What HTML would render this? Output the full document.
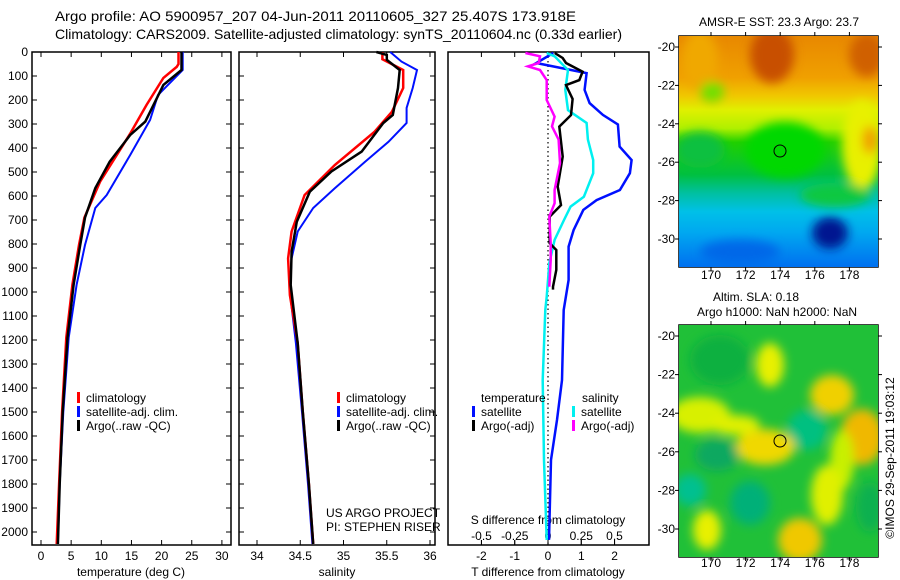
<!DOCTYPE html>
<html><head><meta charset="utf-8"><style>
html,body{margin:0;padding:0;background:#fff}
svg{display:block;font-family:"Liberation Sans",sans-serif}
</style></head><body>
<svg id="fig" width="900" height="580" xmlns="http://www.w3.org/2000/svg">
<defs>
<filter id="blur1" x="-30%" y="-30%" width="160%" height="160%"><feGaussianBlur stdDeviation="5"/></filter>
<clipPath id="clipM1"><rect x="679" y="36" width="199" height="231"/></clipPath>
<clipPath id="clipM2"><rect x="679" y="325" width="199" height="232"/></clipPath>
<linearGradient id="g1" x1="0" y1="0" x2="0" y2="1">
<stop offset="0" stop-color="#e88800"/><stop offset="0.18" stop-color="#f0a000"/>
<stop offset="0.26" stop-color="#f0c800"/><stop offset="0.32" stop-color="#e0f000"/>
<stop offset="0.4" stop-color="#b0f000"/><stop offset="0.46" stop-color="#20d000"/>
<stop offset="0.6" stop-color="#00c040"/><stop offset="0.68" stop-color="#00c0a0"/>
<stop offset="0.76" stop-color="#00c0e8"/><stop offset="0.85" stop-color="#00a8f0"/>
<stop offset="1" stop-color="#0070f0"/></linearGradient>
</defs>
<g font-size="14">
<text x="55" y="21" textLength="521" lengthAdjust="spacingAndGlyphs">Argo profile: AO 5900957_207 04-Jun-2011 20110605_327 25.407S 173.918E</text>
<text x="55" y="39" textLength="567" lengthAdjust="spacingAndGlyphs">Climatology: CARS2009. Satellite-adjusted climatology: synTS_20110604.nc (0.33d earlier)</text>
</g>
<g id="axes"></g>
<g id="maps">
 <g clip-path="url(#clipM1)">
  <rect x="679" y="36" width="199" height="231" fill="url(#g1)"/>
  <g filter="url(#blur1)">
   <ellipse cx="772" cy="55" rx="22" ry="28" fill="#c85000"/>
   <ellipse cx="867" cy="55" rx="18" ry="22" fill="#d06000"/>
   <ellipse cx="700" cy="60" rx="18" ry="30" fill="#f0a800"/>
   <ellipse cx="712" cy="92" rx="12" ry="10" fill="#70e000"/>
   <ellipse cx="862" cy="145" rx="20" ry="45" fill="#e8f000"/>
   <ellipse cx="870" cy="140" rx="8" ry="14" fill="#f0a000"/>
   <ellipse cx="785" cy="150" rx="40" ry="28" fill="#00d800"/>
   <ellipse cx="700" cy="150" rx="25" ry="18" fill="#10c040"/>
   <ellipse cx="835" cy="195" rx="35" ry="12" fill="#10c840"/>
   <ellipse cx="830" cy="233" rx="18" ry="16" fill="#001890"/>
   <ellipse cx="740" cy="252" rx="40" ry="12" fill="#0068e8"/>
  </g>
  <circle cx="780" cy="151" r="6" fill="none" stroke="#000"/>
 </g>
 <g clip-path="url(#clipM2)">
  <rect x="679" y="325" width="199" height="232" fill="#20c038"/>
  <g filter="url(#blur1)">
   <ellipse cx="700" cy="415" rx="30" ry="18" fill="#d8f000"/>
   <ellipse cx="770" cy="365" rx="14" ry="22" fill="#e8f000"/>
   <ellipse cx="832" cy="395" rx="22" ry="20" fill="#f0d000"/>
   <ellipse cx="807" cy="430" rx="20" ry="20" fill="#00c080"/>
   <ellipse cx="862" cy="437" rx="22" ry="28" fill="#f0b800"/>
   <ellipse cx="842" cy="460" rx="12" ry="30" fill="#c8f000"/>
   <ellipse cx="765" cy="447" rx="30" ry="18" fill="#f0d800"/>
   <ellipse cx="735" cy="425" rx="25" ry="10" fill="#e0f000"/>
   <ellipse cx="717" cy="455" rx="22" ry="16" fill="#10a860"/>
   <ellipse cx="690" cy="490" rx="16" ry="16" fill="#00c090"/>
   <ellipse cx="750" cy="503" rx="20" ry="22" fill="#00b078"/>
   <ellipse cx="827" cy="495" rx="16" ry="30" fill="#e0f000"/>
   <ellipse cx="800" cy="540" rx="22" ry="22" fill="#f0c800"/>
   <ellipse cx="707" cy="530" rx="14" ry="20" fill="#e8f000"/>
   <ellipse cx="870" cy="507" rx="14" ry="25" fill="#10b050"/>
   <ellipse cx="720" cy="360" rx="30" ry="25" fill="#10b040"/>
  </g>
  <circle cx="780" cy="441" r="6" fill="none" stroke="#000"/>
 </g>
</g>
</svg>
<script>
// ---- data ----
var argoTDepth=[0,75,137,290,346,457,567,690,804,970,1190,1500,1800,2050];
var argoT=[23.3,23.3,20.3,17.3,14.8,11.4,9.0,7.3,6.5,5.4,4.4,3.6,3.1,2.8];
var climTDepth=[0,50,62,108,221,340,540,690,804,970,1190,1500,1800,2050];
var climT=[22.8,22.8,22.5,20.3,17.5,14.8,9.8,7.2,6.3,5.2,4.2,3.5,3.0,2.6];
var satTDepth=[0,75,179,283,429,596,650,804,970,1190,1500,1800,2050];
var satT=[23.5,23.5,19.4,18.1,14.8,10.9,9.0,7.3,5.9,4.6,3.7,3.1,2.8];
var argoSDepth=[0,12,33,75,150,262,296,415,498,582,707,832,971,1213,1500,1800,2050];
var argoS=[35.38,35.50,35.50,35.65,35.63,35.57,35.46,35.21,34.86,34.61,34.46,34.40,34.39,34.47,34.53,34.60,34.65];
var climSDepth=[0,30,75,150,249,332,471,596,748,860,1013,1213,1500,1800,2050];
var climS=[35.45,35.45,35.69,35.69,35.56,35.36,34.90,34.55,34.40,34.36,34.38,34.47,34.53,34.60,34.65];
var satSDepth=[0,40,75,150,233,296,374,457,568,650,748,860,1000,1213,1500,1800,2050];
var satS=[35.54,35.67,35.85,35.80,35.73,35.73,35.52,35.25,34.90,34.65,34.47,34.40,34.38,34.45,34.52,34.59,34.64];
var dTsatDepth=[4,46,88,158,213,262,302,394,450,505,575,617,658,742,811,950,1075,1367,1533,1700,2033];
var dTsat=[0.16,-0.35,1.16,1.1,1.25,1.65,2.1,2.15,2.51,2.46,2.16,1.46,1.06,0.77,0.62,0.62,0.47,0.42,0.27,0.09,0.03];
var dTargoDepth=[4,25,46,82,117,138,196,263,311,436,561,638,686,797,825,908,978,990];
var dTargo=[0.2,0.44,0.54,1.04,0.94,0.54,0.74,0.69,0.34,0.44,0.29,0.39,0.05,0.05,0.25,0.25,0.15,0.15];
var dSsatDepth=[4,18,75,158,242,296,365,450,505,603,644,700,783,880,1020,1075,1367,1700,2033];
var dSsat=[-0.01,0.05,0.15,0.13,0.15,0.29,0.30,0.34,0.34,0.27,0.17,0.12,0.05,0.01,-0.01,-0.02,-0.04,-0.03,-0.01];
var dSargoDepth=[4,18,46,60,75,117,200,269,310,365,463,575,630,686,797,866,978];
var dSargo=[-0.17,-0.06,-0.07,-0.15,-0.06,-0.01,-0.01,0.05,0.03,0.08,0.09,0.05,0.05,0.01,0.02,0.02,0.01];
var depthTicks=[0,100,200,300,400,500,600,700,800,900,1000,1100,1200,1300,1400,1500,1600,1700,1800,1900,2000];
var tempTicks=[0,5,10,15,20,25,30];
var salTicks=[34,34.5,35,35.5,36];
var salTickLabels=["34","34.5","35","35.5","36"];
var dTTicks=[-2,-1,0,1,2];
var dSTicks=[-0.5,-0.25,0,0.25,0.5];
var dSTickLabels=["-0.5","-0.25","0","0.25","0.5"];
var lonTicks=[170,172,174,176,178];
var latTicks=[-20,-22,-24,-26,-28,-30];
// ---- scales ----
var NS="http://www.w3.org/2000/svg";
var svg=document.getElementById('fig');
var axes=document.getElementById('axes');
var TOP=52,BOT=545;
function yD(d){return 52+d*0.24;}
function xT(t){return 41+t*6.03;}
function xS(s){return 257+(s-34)*86.5;}
function xdT(v){return 548+v*33.3;}
function xdS(v){return 548+v*133;}
function xLon(l){return 711+(l-170)*17.3;}
function yLat1(l){return 47+(-20-l)*19.2;}
function yLat2(l){return 336+(-20-l)*19.3;}
function mk(tag,attrs,parent){var e=document.createElementNS(NS,tag);for(var k in attrs)e.setAttribute(k,attrs[k]);(parent||axes).appendChild(e);return e;}
function txt(x,y,s,anchor,size){var e=mk('text',{x:x,y:y,'font-size':size||12,'text-anchor':anchor||'start'});e.textContent=s;return e;}
function line(x1,y1,x2,y2,w,c){return mk('line',{x1:x1,y1:y1,x2:x2,y2:y2,stroke:c||'#000','stroke-width':w||1});}
var panels=[[32,231],[239,435],[448,649]];
panels.forEach(function(p,i){
  var r=mk('rect',{x:p[0],y:TOP,width:p[1]-p[0],height:BOT-TOP,fill:'none',stroke:'#000','stroke-width':1.5});
  
  
  if(i<2){depthTicks.forEach(function(d){line(p[0],yD(d),p[0]+5,yD(d));line(p[1]-5,yD(d),p[1],yD(d));});}
});
depthTicks.forEach(function(d){var t=txt(28,yD(d)+4,String(d),'end');
  
  });
tempTicks.forEach(function(v){line(xT(v),BOT,xT(v),BOT-5);line(xT(v),TOP,xT(v),TOP+5);
  var t=txt(xT(v),560,String(v),'middle');
  
  });
salTicks.forEach(function(v,i){line(xS(v),BOT,xS(v),BOT-5);line(xS(v),TOP,xS(v),TOP+5);
  var t=txt(xS(v),560,salTickLabels[i],'middle');
  
  });
dTTicks.forEach(function(v){line(xdT(v),BOT,xdT(v),BOT-5);line(xdT(v),TOP,xdT(v),TOP+5);
  var t=txt(xdT(v),560,String(v),'middle');
  
  });
dSTicks.forEach(function(v,i){line(xdS(v),BOT,xdS(v),BOT-5);
  var t=txt(xdS(v),540,dSTickLabels[i],'middle');
  
  });
var a;
a=txt(131,576,'temperature (deg C)','middle');
a=txt(337,576,'salinity','middle');
a=txt(548,576,'T difference from climatology','middle');
a=txt(548,524,'S difference from climatology','middle');
a=txt(326,517,'US ARGO PROJECT');
a=txt(326,531,'PI: STEPHEN RISER');
var z=mk('line',{x1:548,y1:TOP,x2:548,y2:BOT,stroke:'#000','stroke-width':1.2,'stroke-dasharray':'1.5,3'});


function series(vals,deps,xf,color,name,w){
  var pts=vals.map(function(v,i){return xf(v).toFixed(1)+','+yD(deps[i]).toFixed(1);}).join(' ');
  var p=mk('polyline',{points:pts,fill:'none',stroke:color,'stroke-width':w||2.5,'stroke-linejoin':'miter'});
  
  
}
series(satT,satTDepth,xT,'#0010ff','temperature-satellite-line',2);
series(climT,climTDepth,xT,'#ff0000','temperature-climatology-line',2.5);
series(argoT,argoTDepth,xT,'#000','temperature-argo-line',2.5);
series(satS,satSDepth,xS,'#0010ff','salinity-satellite-line',2);
series(climS,climSDepth,xS,'#ff0000','salinity-climatology-line',2.5);
series(argoS,argoSDepth,xS,'#000','salinity-argo-line',2.5);
series(dTsat,dTsatDepth,xdT,'#0010ff','t-diff-satellite-line',2.5);
series(dSsat,dSsatDepth,xdS,'#00f0f0','s-diff-satellite-line',2.5);
series(dTargo,dTargoDepth,xdT,'#000','t-diff-argo-line',2.5);
series(dSargo,dSargoDepth,xdS,'#ff00ff','s-diff-argo-line',2.5);
function legEntry(x,y,color,label,name){
  var g=mk('g',{});
  
  
  mk('rect',{x:x,y:y-10,width:3,height:11,fill:color},g);
  var t=mk('text',{x:x+9,y:y,'font-size':12},g);t.textContent=label;
}
legEntry(77,402,'#ff0000','climatology','legend-entry-climatology');
legEntry(77,416,'#0010ff','satellite-adj. clim.','legend-entry-satellite');
legEntry(77,430,'#000','Argo(..raw -QC)','legend-entry-argo');
legEntry(337,402,'#ff0000','climatology','legend-entry-climatology-s');
legEntry(337,416,'#0010ff','satellite-adj. clim.','legend-entry-satellite-s');
legEntry(337,430,'#000','Argo(..raw -QC)','legend-entry-argo-s');
a=txt(481,402,'temperature');
a=txt(582,402,'salinity');
legEntry(472,416,'#0010ff','satellite','legend-entry-t-satellite');
legEntry(472,430,'#000','Argo(-adj)','legend-entry-t-argo');
legEntry(572,416,'#00f0f0','satellite','legend-entry-s-satellite');
legEntry(572,430,'#ff00ff','Argo(-adj)','legend-entry-s-argo');
[[36,267,yLat1,279],[325,557,yLat2,567]].forEach(function(m,i){
  var r=mk('rect',{x:679,y:m[0],width:199,height:m[1]-m[0],fill:'none',stroke:'#000','stroke-width':1.5});
  
  
  lonTicks.forEach(function(l){line(xLon(l),m[0],xLon(l),m[0]-4);line(xLon(l),m[1],xLon(l),m[1]+4);
    var t=txt(xLon(l),m[3],String(l),'middle');
    
    });
  latTicks.forEach(function(l){var y=m[2](l);line(675,y,679,y);line(878,y,882,y);
    var t=txt(675,y+4,String(l),'end');
    
    });
});
a=txt(779,26,'AMSR-E SST: 23.3  Argo: 23.7','middle');
a=txt(756,301,'Altim. SLA: 0.18','middle');
a=txt(777,316,'Argo h1000: NaN h2000: NaN','middle');
a=txt(0,0,'©IMOS 29-Sep-2011 19:03:12','middle');
a.setAttribute('transform','translate(894,458) rotate(-90)');

</script>
</body></html>
